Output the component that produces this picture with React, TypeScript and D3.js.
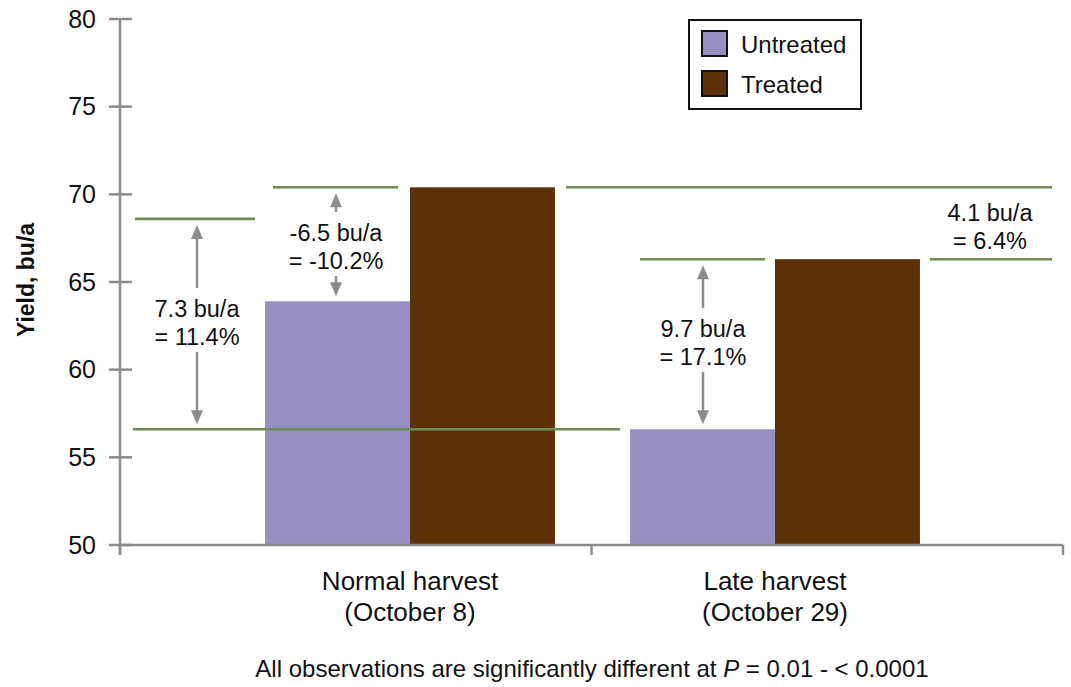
import React from "react";
import * as d3 from "d3";

const categories = ["Normal harvest", "Late harvest"];
const categorySub = ["(October 8)", "(October 29)"];
const seriesNames = ["Untreated", "Treated"];
const untreated = [63.9, 56.6];
const treated = [70.4, 66.3];
const yTicks = [50, 55, 60, 65, 70, 75, 80];
const refLevels = [68.6, 70.4, 70.4, 66.3, 66.3, 56.6];
const annotations = [
  { lines: ["7.3 bu/a", "= 11.4%"], from: 56.6, to: 68.6, arrow: true },
  { lines: ["-6.5 bu/a", "= -10.2%"], from: 63.9, to: 70.4, arrow: true },
  { lines: ["9.7 bu/a", "= 17.1%"], from: 56.6, to: 66.3, arrow: true },
  { lines: ["4.1 bu/a", "= 6.4%"], from: 66.3, to: 70.4, arrow: false },
];
const footnotePre = "All observations are significantly different at ";
const footnotePost = " = 0.01 - < 0.0001";

const W = 1071;
const H = 687;
const FONT = "'Liberation Sans', Arial, Helvetica, sans-serif";
const colors = ["#958fc2", "#5c3108"];
const GREEN = "#6f8a58";
const GRAY = "#8c8c90";

// layout (pixel positions)
const axisX = 120;
const axisEnd = 1063;
const refX: [number, number][] = [
  [135, 255],
  [273, 398],
  [566, 1052],
  [640, 765],
  [930, 1052],
  [133, 620],
];
const annX = [197, 336, 703, 990];
const annTextY = [309, 233, 329, 213];

export default function App() {
  const y = d3.scaleLinear().domain([50, 80]).range([545, 19]);
  const x0 = d3.scaleBand<string>().domain(categories).range([227.5, 957.5]);
  const x1 = d3
    .scaleBand<string>()
    .domain(seriesNames)
    .range([0, x0.bandwidth()])
    .paddingOuter(0.259)
    .paddingInner(0);
  const values = [untreated, treated];
  const base = y(50);

  const arrowHead = (xp: number, tipY: number, dir: number) =>
    `M${xp - 6},${tipY + dir * 14} L${xp},${tipY} L${xp + 6},${tipY + dir * 14} Z`;

  return (
    <div style={{ position: "absolute", left: 0, top: 0 }}>
      <svg width={W} height={H} style={{ display: "block", background: "#fff" }} fontFamily={FONT}>
        {/* bars */}
        {categories.map((c, ci) =>
          seriesNames.map((s, si) => {
            const v = values[si][ci];
            return (
              <rect
                key={c + s}
                x={(x0(c) ?? 0) + (x1(s) ?? 0)}
                y={y(v)}
                width={x1.bandwidth()}
                height={base - y(v)}
                fill={colors[si]}
              />
            );
          })
        )}
        {/* green reference lines */}
        {refLevels.map((v, i) => (
          <line
            key={"r" + i}
            x1={refX[i][0]}
            x2={refX[i][1]}
            y1={y(v)}
            y2={y(v)}
            stroke={GREEN}
            strokeWidth={2.6}
          />
        ))}
        {/* annotations */}
        {annotations.map((a, i) => {
          const xp = annX[i];
          const ty = annTextY[i];
          const topTip = y(a.to) + 6;
          const botTip = y(a.from) - 5;
          return (
            <g key={"a" + i}>
              {a.arrow && (
                <g>
                  <line x1={xp} x2={xp} y1={topTip + 10} y2={ty - 21} stroke={GRAY} strokeWidth={2.5} />
                  <path d={arrowHead(xp, topTip, 1)} fill={GRAY} />
                  <line x1={xp} x2={xp} y1={ty + 43} y2={botTip - 10} stroke={GRAY} strokeWidth={2.5} />
                  <path d={arrowHead(xp, botTip, -1)} fill={GRAY} />
                </g>
              )}
              {a.lines.map((t, li) => (
                <text
                  key={li}
                  x={xp}
                  y={ty + li * 28}
                  dy="0.35em"
                  textAnchor="middle"
                  fontSize={23.5}
                  fill="#111"
                >
                  {t}
                </text>
              ))}
            </g>
          );
        })}
        {/* y axis */}
        <line x1={axisX} x2={axisX} y1={y(80)} y2={base + 10} stroke={GRAY} strokeWidth={2.5} />
        {yTicks.map((t) => (
          <g key={"yt" + t}>
            <line x1={axisX - 11} x2={axisX + 12} y1={y(t)} y2={y(t)} stroke={GRAY} strokeWidth={2.5} />
            <text x={96} y={y(t)} dy="0.35em" textAnchor="end" fontSize={25} fill="#111">
              {t}
            </text>
          </g>
        ))}
        {/* x axis */}
        <line x1={axisX} x2={axisEnd} y1={base} y2={base} stroke={GRAY} strokeWidth={2.5} />
        {[axisX, (axisX + axisEnd) / 2, axisEnd].map((t, i) => (
          <line key={"xt" + i} x1={t} x2={t} y1={base} y2={base + 10} stroke={GRAY} strokeWidth={2.5} />
        ))}
        {categories.map((c, ci) => {
          const cx = (x0(c) ?? 0) + x0.bandwidth() / 2;
          return (
            <g key={"xl" + c}>
              <text x={cx} y={590} textAnchor="middle" fontSize={26} fill="#111">
                {c}
              </text>
              <text x={cx} y={621} textAnchor="middle" fontSize={26} fill="#111">
                {categorySub[ci]}
              </text>
            </g>
          );
        })}
        {/* y label */}
        <text
          transform={`translate(34,${280}) rotate(-90)`}
          textAnchor="middle"
          fontSize={23}
          fontWeight="bold"
          fill="#111"
        >
          Yield, bu/a
        </text>
        {/* legend */}
        <rect x={689} y={20} width={172} height={89} fill="#fff" stroke="#111" strokeWidth={2} />
        {seriesNames.map((s, si) => (
          <g key={"lg" + s}>
            <rect x={702} y={31 + si * 40} width={25} height={25} fill={colors[si]} stroke="#111" strokeWidth={2} />
            <text x={741} y={53 + si * 40} fontSize={24} fill="#111">
              {s}
            </text>
          </g>
        ))}
        {/* footnote */}
        <text x={592} y={677} textAnchor="middle" fontSize={24} fill="#111">
          {footnotePre}
          <tspan fontStyle="italic">P</tspan>
          {footnotePost}
        </text>
      </svg>
    </div>
  );
}
